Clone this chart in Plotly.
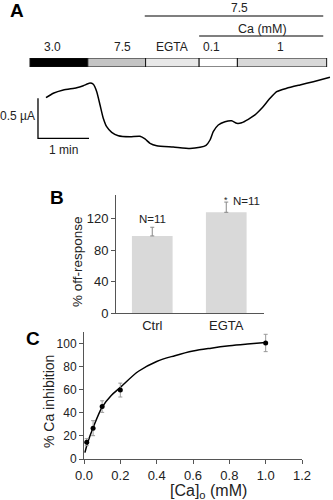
import plotly.graph_objects as go

W, H = 333, 500
FONT = "Liberation Sans, Arial, sans-serif"
TXT = "#222222"

# ---------------- Panel A data ----------------
seg_labels = ["3.0", "7.5", "EGTA", "0.1", "1"]
seg_start = [0, 68, 136, 199, 244]          # s
seg_end = [68, 136, 199, 244, 349]          # s
seg_colors = ["#000000", "#c4c4c4", "#e8e8e8", "#ffffff", "#d8d8d8"]
seg_label_x = [27, 109, 167, 214, 295]      # s, label centres

trace_t = [18.8, 27.4, 39.2, 54.9, 62.7, 70.6, 74.5, 78.5, 82.4, 86.2, 90.2, 96.1, 103.9,
           117.6, 129.4, 135.3, 141.2, 149.1, 168.6, 188.2, 200, 207.1, 211.8, 215.6,
           221.5, 229.4, 237.3, 243.2, 249.1, 256.8, 264.7, 272.6, 282.4, 290.2, 302,
           317.6, 333.3, 352.9]
trace_i = [0.629, 0.684, 0.725, 0.754, 0.779, 0.812, 0.796, 0.704, 0.538, 0.371, 0.266,
           0.196, 0.154, 0.141, 0.146, 0.113, 0.059, 0.029, 0.013, -0.006, 0.009, 0.034,
           0.100, 0.204, 0.288, 0.329, 0.341, 0.309, 0.316, 0.359, 0.413, 0.496, 0.621,
           0.704, 0.746, 0.788, 0.829, 0.884]

scale_t0, scale_i0 = 9.4, 0.121
scale_dt, scale_di = 60, 0.5   # 1 min, 0.5 uA

# ---------------- Panel B data ----------------
b_cats = ["Ctrl", "EGTA"]
b_vals = [98, 128]
b_err = [11, 13]
b_n = ["N=11", "N=11"]

# ---------------- Panel C data ----------------
c_x = [0.015, 0.05, 0.1, 0.2, 1.0]
c_y = [14.6, 26.7, 45.4, 59.7, 100.5]
c_err = [3, 6.5, 5, 6, 7.5]
fit_x = [0.005, 0.02, 0.05, 0.1, 0.15, 0.2, 0.3, 0.4, 0.5, 0.6, 0.7, 0.8, 0.9, 1.0]
fit_y = [5.5, 14, 27, 45, 55, 62, 76, 84.5, 89.5, 93.5, 96, 98, 99.5, 100.8]


def px_x(p):
    return p / W


def px_y(p):
    return 1 - p / H


# time axis mapping: px 30 -> 0 s, 51 px per 60 s
t_per_px = 60 / 51
xA_range = [(0 - 30) * t_per_px, (W - 30) * t_per_px]

fig = go.Figure()

# solution bar (horizontal stacked bar)
fig.add_trace(go.Bar(
    y=["sol"] * len(seg_labels),
    x=[e - s for s, e in zip(seg_start, seg_end)],
    base=seg_start,
    orientation="h",
    marker=dict(color=seg_colors, line=dict(color="#111111", width=1)),
    width=1,
    xaxis="x", yaxis="y2", showlegend=False, hoverinfo="skip",
))

# current trace
fig.add_trace(go.Scatter(
    x=trace_t, y=trace_i, mode="lines",
    line=dict(color="#000000", width=1.5, shape="spline", smoothing=0.5),
    xaxis="x", yaxis="y", showlegend=False,
))
# scale bar
fig.add_trace(go.Scatter(
    x=[scale_t0, scale_t0, scale_t0 + scale_dt],
    y=[scale_i0 + scale_di, scale_i0, scale_i0],
    mode="lines", line=dict(color="#000000", width=1.3),
    xaxis="x", yaxis="y", showlegend=False,
))

# Panel B bars
fig.add_trace(go.Bar(
    x=b_cats, y=b_vals, width=0.55,
    marker=dict(color="#d9d9d9", line=dict(width=0)),
    error_y=dict(type="data", array=b_err, arrayminus=[0, 0], symmetric=False,
                 color="#888888", thickness=1, width=2),
    xaxis="x3", yaxis="y3", showlegend=False,
))

# Panel C
fig.add_trace(go.Scatter(
    x=fit_x, y=fit_y, mode="lines",
    line=dict(color="#000000", width=1.5, shape="spline"),
    xaxis="x4", yaxis="y4", showlegend=False,
))
fig.add_trace(go.Scatter(
    x=c_x, y=c_y, mode="markers",
    marker=dict(color="#000000", size=5),
    error_y=dict(type="data", array=c_err, color="#999999", thickness=1, width=2),
    xaxis="x4", yaxis="y4", showlegend=False,
))

axis_common = dict(showgrid=False, zeroline=False)

fig.update_layout(
    width=W, height=H,
    margin=dict(l=0, r=0, t=0, b=0, pad=0, autoexpand=False),
    paper_bgcolor="white", plot_bgcolor="rgba(0,0,0,0)",
    font=dict(family=FONT, size=12, color=TXT),
    barmode="overlay",
    xaxis=dict(domain=[0, 1], range=xA_range, visible=False, **axis_common),
    yaxis=dict(domain=[px_y(160), px_y(70)], range=[-0.15, 0.975], visible=False, **axis_common),
    yaxis2=dict(domain=[px_y(67), px_y(58)], range=[-0.5, 0.5], visible=False, **axis_common),
    xaxis3=dict(domain=[px_x(116), px_x(264)], anchor="y3", range=[-0.49, 1.51],
                showline=True, linecolor="#555555", linewidth=1, ticks="",
                tickfont=dict(size=13, color=TXT), **axis_common),
    yaxis3=dict(domain=[px_y(313), px_y(195)], anchor="x3", range=[0, 150],
                tickvals=[0, 40, 80, 120], showline=True, linecolor="#555555", linewidth=1,
                ticks="outside", ticklen=4, tickcolor="#555555",
                tickfont=dict(size=13, color=TXT), **axis_common),
    xaxis4=dict(domain=[px_x(84), px_x(302)], anchor="y4", range=[0, 1.2],
                tickvals=[0, 0.2, 0.4, 0.6, 0.8, 1.0, 1.2], tickformat=".1f",
                showline=True, linecolor="#555555", linewidth=1,
                ticks="outside", ticklen=4, tickcolor="#555555",
                tickfont=dict(size=13, color=TXT), **axis_common),
    yaxis4=dict(domain=[px_y(459), px_y(332)], anchor="x4", range=[0, 110],
                tickvals=[0, 20, 40, 60, 80, 100], showline=True, linecolor="#555555", linewidth=1,
                ticks="outside", ticklen=4, tickcolor="#555555",
                tickfont=dict(size=12, color=TXT), **axis_common),
)

CM = dict(xanchor="center", yanchor="middle", showarrow=False)
ann = []
# panel letters
for letter, x, y in [("A", 17, 10), ("B", 57, 197), ("C", 33, 338)]:
    ann.append(dict(text="<b>%s</b>" % letter, x=px_x(x), y=px_y(y), xref="paper", yref="paper",
                    font=dict(size=19, color="#000000"), **CM))
# segment labels
for lab, x in zip(seg_labels, seg_label_x):
    ann.append(dict(text=lab, x=x, y=px_y(47), xref="x", yref="paper",
                    font=dict(size=12, color=TXT), **CM))
# upper headers
ann.append(dict(text="7.5", x=(seg_start[2] + seg_end[4]) / 2 + 4, y=px_y(8), xref="x", yref="paper",
                font=dict(size=12, color=TXT), **CM))
ann.append(dict(text="Ca (mM)", x=(seg_start[3] + seg_end[4]) / 2, y=px_y(29), xref="x", yref="paper",
                font=dict(size=12.5, color=TXT), **CM))
# scale bar labels
ann.append(dict(text="0.5 µA", x=scale_t0, y=scale_i0 + scale_di * 0.55, xref="x", yref="y",
                showarrow=False, xanchor="right", yanchor="middle", xshift=-1,
                font=dict(size=12, color=TXT)))
ann.append(dict(text="1 min", x=scale_t0 + scale_dt / 2, y=px_y(150), xref="x", yref="paper",
                font=dict(size=12, color=TXT), **CM))
# panel B annotations
ann.append(dict(text=b_n[0], x=b_cats[0], y=b_vals[0] + b_err[0], xref="x3", yref="y3",
                showarrow=False, xanchor="center", yanchor="bottom", yshift=0,
                font=dict(size=11.5, color=TXT)))
ann.append(dict(text=b_n[1], x=b_cats[1], y=b_vals[1] + b_err[1], xref="x3", yref="y3",
                showarrow=False, xanchor="left", xshift=5, yanchor="middle", yshift=1,
                font=dict(size=11.5, color=TXT)))
ann.append(dict(text="*", x=b_cats[1], y=b_vals[1] + b_err[1], xref="x3", yref="y3",
                showarrow=False, xanchor="center", yanchor="bottom", yshift=-5,
                font=dict(size=9, color=TXT)))
ann.append(dict(text="% off-response", x=px_x(77), y=px_y(262), xref="paper", yref="paper",
                textangle=-90, font=dict(size=13.5, color=TXT), **CM))
# panel C titles
ann.append(dict(text="% Ca inhibition", x=px_x(49), y=px_y(401), xref="paper", yref="paper",
                textangle=-90, font=dict(size=14, color=TXT), **CM))
ann.append(dict(text="[Ca]<sub>o</sub> (mM)", x=px_x(209), y=px_y(491), xref="paper", yref="paper",
                font=dict(size=16, color=TXT), **CM))
fig.update_layout(annotations=ann)

# header lines
fig.add_shape(type="line", xref="x", yref="paper", x0=seg_start[2] - 1, x1=seg_end[4] - 4,
              y0=px_y(16), y1=px_y(16), line=dict(color="#000000", width=1.2))
fig.add_shape(type="line", xref="x", yref="paper", x0=seg_start[3], x1=seg_end[4] - 4,
              y0=px_y(36), y1=px_y(36), line=dict(color="#000000", width=1.2))

fig.write_html("out.html")
